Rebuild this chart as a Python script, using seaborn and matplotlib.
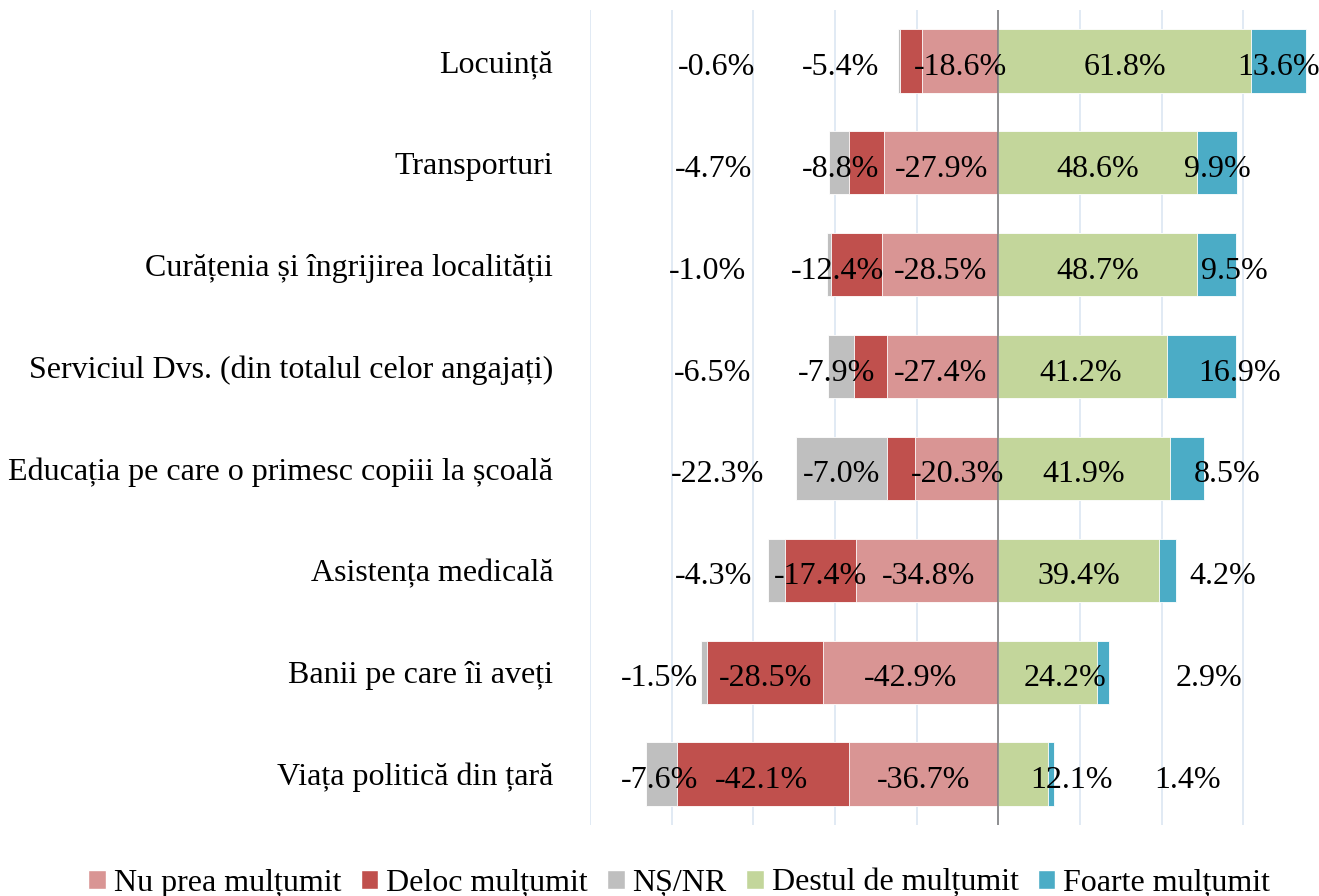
import matplotlib
matplotlib.use("Agg")
import matplotlib.pyplot as plt
import seaborn as sns
import pandas as pd
from matplotlib.patches import Patch

categories = [
    "Locuință",
    "Transporturi",
    "Curățenia și îngrijirea localității",
    "Serviciul Dvs. (din totalul celor angajați)",
    "Educația pe care o primesc copiii la școală",
    "Asistența medicală",
    "Banii pe care îi aveți",
    "Viața politică din țară",
]
nu_prea = [18.6, 27.9, 28.5, 27.4, 20.3, 34.8, 42.9, 36.7]
deloc = [5.4, 8.8, 12.4, 7.9, 7.0, 17.4, 28.5, 42.1]
ns_nr = [0.6, 4.7, 1.0, 6.5, 22.3, 4.3, 1.5, 7.6]
destul = [61.8, 48.6, 48.7, 41.2, 41.9, 39.4, 24.2, 12.1]
foarte = [13.6, 9.9, 9.5, 16.9, 8.5, 4.2, 2.9, 1.4]

# where the value labels sit (in % units), as placed in the original
lx_ns = [-69.1, -69.8, -71.3, -70.0, -68.8, -69.7, -82.9, -82.9]
lx_deloc = [-38.7, -38.7, -39.5, -39.7, -38.5, -43.6, -57.0, -57.9]
lx_nu = [-9.3, -13.9, -14.2, -14.2, -10.0, -17.2, -21.4, -18.3]
lx_destul = [31.0, 24.4, 24.4, 20.1, 21.0, 19.8, 16.4, 17.8]
lx_foarte = [68.6, 53.7, 57.8, 59.0, 56.1, 55.0, 51.6, 46.2]

colors = {
    "Nu prea mulțumit": "#D99594",
    "Deloc mulțumit": "#C0504D",
    "NȘ/NR": "#BFBFBF",
    "Destul de mulțumit": "#C3D69B",
    "Foarte mulțumit": "#4BACC6",
}

df = pd.DataFrame({"cat": categories, "nu": nu_prea, "deloc": deloc, "ns": ns_nr,
                   "destul": destul, "foarte": foarte})
df["neg3"] = -(df["nu"] + df["deloc"] + df["ns"])
df["neg2"] = -(df["nu"] + df["deloc"])
df["neg1"] = -df["nu"]
df["pos2"] = df["destul"] + df["foarte"]
df["pos1"] = df["destul"]

sns.set_style("white")
plt.rcParams["font.family"] = ["Liberation Serif", "DejaVu Serif"]
plt.rcParams["text.color"] = "black"
plt.rcParams["ytick.color"] = "black"
plt.rcParams["ytick.labelcolor"] = "black"
fs = 23

fig = plt.figure(figsize=(13.19, 8.96), dpi=100)
ax = fig.add_axes([590 / 1319, 71 / 896, 729 / 1319, 815 / 896])

layers = [("neg3", "NȘ/NR"), ("neg2", "Deloc mulțumit"), ("neg1", "Nu prea mulțumit"),
          ("pos2", "Foarte mulțumit"), ("pos1", "Destul de mulțumit")]
for col, name in layers:
    sns.barplot(data=df, x=col, y="cat", order=categories, orient="h",
                color=colors[name], saturation=1, width=0.62, ax=ax,
                edgecolor="white", linewidth=0.6, zorder=2)

ax.set_xlim(-100, 78.5)
ax.set_ylim(7.5, -0.5)
for g in range(-100, 80, 20):
    ax.axvline(g, color="#DCE6F2", lw=1.2, zorder=0)
ax.axvline(0, color="#808080", lw=1.2, zorder=3)

ax.set_xticks([])
ax.set_xlabel("")
ax.set_ylabel("")
ax.tick_params(axis="y", length=0, pad=26.5, labelsize=fs, labelcolor="black")
for s in ax.spines.values():
    s.set_visible(False)

for i in range(len(categories)):
    for xs, vals, sign in [(lx_ns, ns_nr, -1), (lx_deloc, deloc, -1), (lx_nu, nu_prea, -1),
                           (lx_destul, destul, 1), (lx_foarte, foarte, 1)]:
        ax.text(xs[i], i + 0.03, f"{sign * vals[i]:.1f}%", ha="center", va="center_baseline",
                fontsize=fs, color="black", zorder=5)

order = ["Nu prea mulțumit", "Deloc mulțumit", "NȘ/NR", "Destul de mulțumit", "Foarte mulțumit"]
handles = [Patch(facecolor=colors[n], label=n) for n in order]
fig.legend(handles=handles, loc="lower center", bbox_to_anchor=(0.515, -0.016), ncol=5,
           frameon=False, fontsize=fs, handlelength=0.55, handleheight=0.55,
           handletextpad=0.25, columnspacing=0.6, borderaxespad=0, labelcolor="black")

fig.savefig("out.png", dpi=100)
